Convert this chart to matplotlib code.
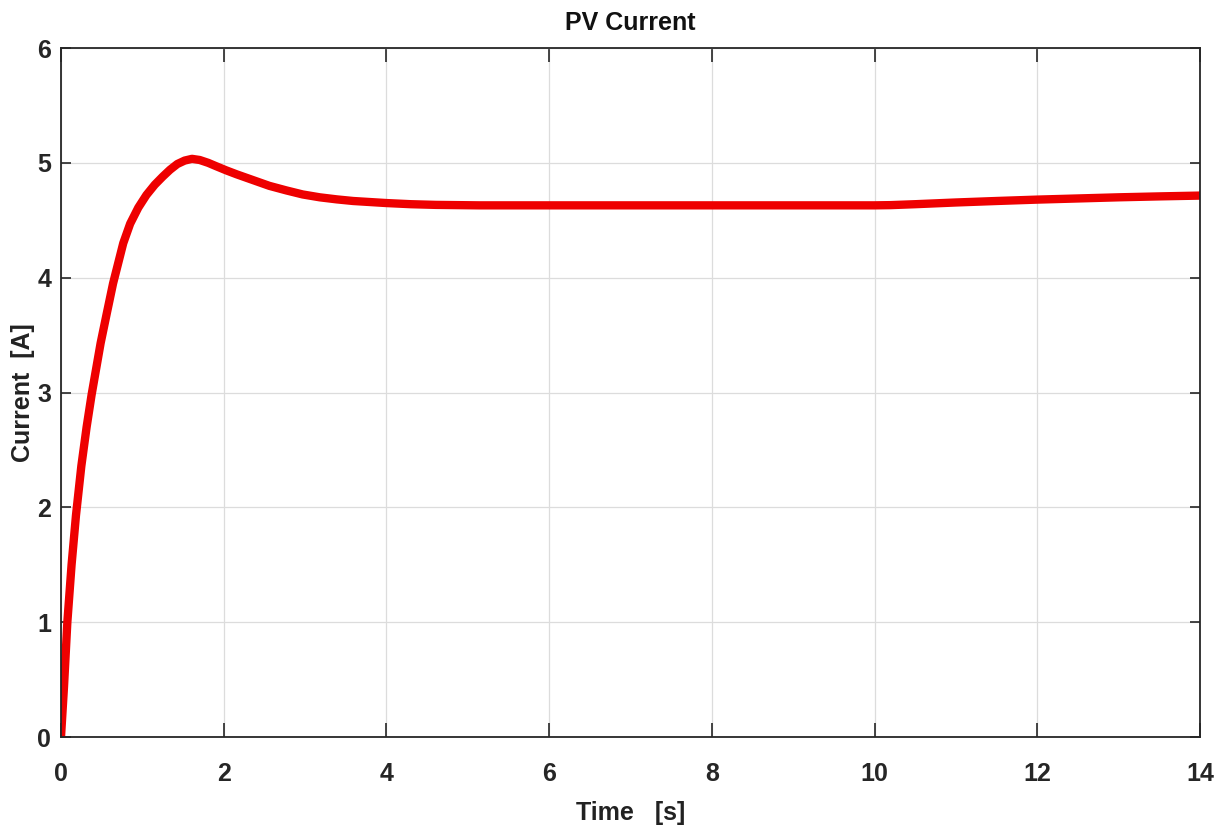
import matplotlib.pyplot as plt

t = [0.0, 0.037, 0.078, 0.13, 0.184, 0.25, 0.315, 0.376, 0.487, 0.56, 0.64,
     0.765, 0.85, 0.95, 1.05, 1.153, 1.25, 1.34, 1.43, 1.52, 1.61, 1.705,
     1.81, 1.91, 2.03, 2.16, 2.36, 2.56, 2.77, 2.97, 3.18, 3.39, 3.59, 4.0,
     4.3, 4.61, 5.14, 6.0, 8.0, 10.0, 10.2, 10.5, 11.0, 11.5, 12.0, 12.5,
     13.0, 13.5, 14.0]
i_pv = [0.0, 0.44, 1.0, 1.50, 1.93, 2.36, 2.70, 2.98, 3.43, 3.68, 3.95,
        4.30, 4.47, 4.61, 4.72, 4.81, 4.88, 4.94, 4.99, 5.02, 5.035, 5.025,
        5.0, 4.97, 4.935, 4.90, 4.85, 4.80, 4.76, 4.725, 4.70, 4.682, 4.668,
        4.65, 4.64, 4.634, 4.63, 4.63, 4.63, 4.63, 4.632, 4.64, 4.655,
        4.668, 4.68, 4.69, 4.70, 4.708, 4.715]

xticks = list(range(0, 15, 2))
yticks = list(range(0, 7))

fnt = ['Liberation Sans', 'DejaVu Sans']

fig = plt.figure(figsize=(12.2, 8.31), dpi=100)
ax = fig.add_axes([0.05, 0.1131, 0.9336, 0.8291])

ax.plot(t, i_pv, color='#ee0000', lw=6, solid_capstyle='round',
        solid_joinstyle='round')

ax.set_xlim(0, 14)
ax.set_ylim(0, 6)
ax.set_xticks(xticks)
ax.set_yticks(yticks)
ax.grid(True, color='#dcdcdc', lw=0.9)
ax.set_axisbelow(True)

for s in ax.spines.values():
    s.set_color('#262626')
    s.set_linewidth(1.3)

ax.tick_params(axis='x', direction='in', length=10, width=1.2, pad=18,
               top=True, colors='#262626')
ax.tick_params(axis='y', direction='in', length=7, width=1.2, pad=7,
               right=True, colors='#262626')
for lab in ax.get_xticklabels() + ax.get_yticklabels():
    lab.set_family(fnt)
    lab.set_fontweight('bold')
    lab.set_fontsize(18)

ax.set_title('PV Current', family=fnt, fontweight='bold', fontsize=18,
             color='#111111', pad=13)
ax.set_xlabel('Time   [s]', family=fnt, fontweight='bold', fontsize=18,
              color='#222222', labelpad=11)
ax.set_ylabel('Current  [A]', family=fnt, fontweight='bold', fontsize=18,
              color='#222222')
ax.yaxis.set_label_coords(-0.023, 0.5)

fig.savefig('out.png', dpi=100)
